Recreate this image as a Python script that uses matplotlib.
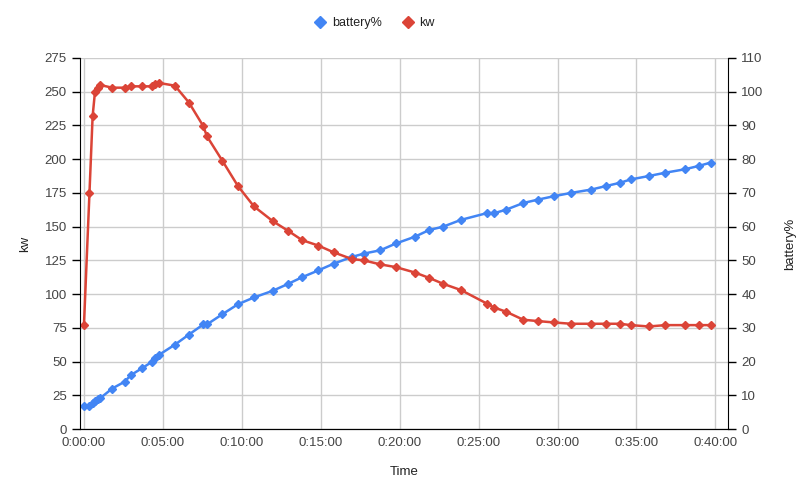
import numpy as np
import matplotlib.pyplot as plt
from matplotlib.ticker import FuncFormatter, MultipleLocator
from matplotlib.lines import Line2D

# -- Data (time in minutes) ----------------------------------------------------
minutes = [0, 0.35, 0.55, 0.7, 0.9, 1.02, 1.79, 2.57, 2.98, 3.67, 4.34, 4.5, 4.76,
           5.76, 6.65, 7.56, 7.79, 8.76, 9.76, 10.77, 11.97, 12.92, 13.82, 14.84,
           15.81, 16.97, 17.73, 18.78, 19.76, 20.96, 21.87, 22.76, 23.88, 25.52,
           25.99, 26.73, 27.83, 28.75, 29.75, 30.86, 32.15, 33.04, 33.96, 34.64,
           35.78, 36.84, 38.06, 38.95, 39.71]
battery = [6.9, 6.8, 7.8, 8.2, 8.8, 9.1, 12, 14, 16, 18, 20, 21, 22,
           25, 28, 31, 31, 34, 37, 39, 41, 43, 45, 47,
           49, 51, 52, 53, 55, 57, 59, 60, 62, 64,
           64, 65, 67, 68, 69, 70, 71, 72, 73, 74,
           75, 76, 77, 78, 79]
kw = [77, 175, 232, 250, 253, 255, 253, 253, 254, 254, 254, 255.5, 256.5,
      254.5, 242, 224.5, 217, 199, 180, 165, 154, 147, 140, 136,
      131, 126, 125, 122, 120, 116, 112, 107.6, 103, 93,
      90, 87, 81, 80, 79, 78, 78, 78, 78, 77,
      76, 77, 77, 77, 77]

blue = '#4285f4'
red = '#db4437'

plt.rcParams['font.family'] = ['Liberation Sans', 'DejaVu Sans']

fig = plt.figure(figsize=(8.07, 4.92), dpi=100)
ax = fig.add_axes([80 / 807, 1 - 429 / 492, 648 / 807, 371 / 492])
ax2 = ax.twinx()

# left axis: kw
ax.set_xlim(-0.25, 40.8)
ax.set_ylim(0, 275)
ax.yaxis.set_major_locator(MultipleLocator(25))
ax.xaxis.set_major_locator(MultipleLocator(5))
ax.xaxis.set_major_formatter(FuncFormatter(
    lambda v, p: '%d:%02d:%02d' % (int(v) // 60, int(v) % 60, 0)))

# right axis: battery% (its grid lines coincide with the kw ones)
ax2.set_ylim(0, 110)
ax2.yaxis.set_major_locator(MultipleLocator(10))
ax2.xaxis.set_visible(True)
ax2.tick_params(axis='x', labelbottom=False, length=0)
ax2.grid(True, color='#cccccc', lw=1)
ax2.set_axisbelow(True)

# kw drawn above battery%
ax.set_zorder(ax2.get_zorder() + 1)
ax.patch.set_visible(False)
ax2.plot(minutes, battery, color=blue, lw=1.8, marker='D', ms=3.8)
ax.plot(minutes, kw, color=red, lw=1.8, marker='D', ms=3.8)

for a in (ax, ax2):
    a.spines['top'].set_visible(False)
    for s in ('left', 'right', 'bottom'):
        a.spines[s].set_color('black')
    a.tick_params(axis='y', length=6, width=1, colors='black', labelcolor='#444444',
                  labelsize=9.5)
ax.tick_params(axis='x', length=0, labelcolor='#444444', labelsize=9.5, pad=6)
ax2.spines['left'].set_visible(False)
ax.spines['right'].set_visible(False)

ax.set_xlabel('Time', color='#222222', fontsize=9.5, labelpad=12)
ax.set_ylabel('kw', color='#222222', fontsize=9.5, labelpad=10)
ax2.set_ylabel('battery%', color='#222222', fontsize=9.5, labelpad=15)

handles = [Line2D([], [], ls='none', marker='D', ms=6.5, color=blue),
           Line2D([], [], ls='none', marker='D', ms=6.5, color=red)]
fig.legend(handles, ['battery%', 'kw'], loc='center', bbox_to_anchor=(373 / 807, 1 - 23 / 492),
           ncol=2, frameon=False, fontsize=9, handletextpad=0.2, columnspacing=1.3,
           handlelength=1.5, labelcolor='#222222')

fig.savefig('out.png', dpi=100)
